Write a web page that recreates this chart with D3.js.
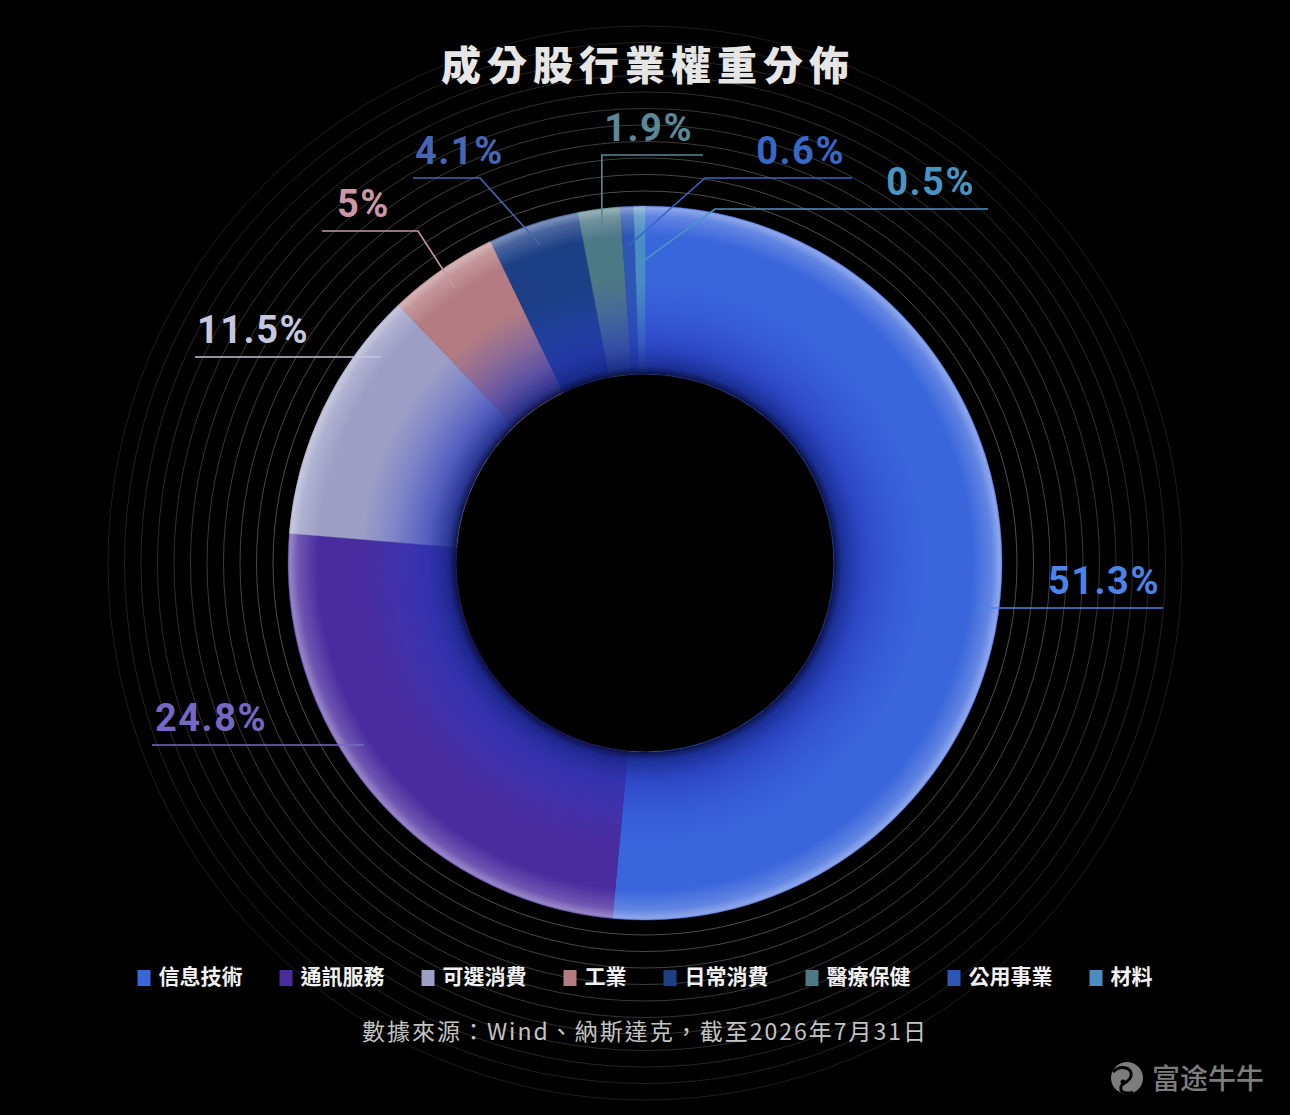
<!DOCTYPE html>
<html><head><meta charset="utf-8">
<script src="https://cdn.jsdelivr.net/npm/d3@7"></script>
<style>
html,body{margin:0;padding:0;background:#000;}
svg{display:block;}
</style></head>
<body>
<svg id="chart" width="1290" height="1115"></svg>
<script>
// ---- data ----
const categories = ['信息技術','通訊服務','可選消費','工業','日常消費','醫療保健','公用事業','材料'];
const values = [51.3, 24.8, 11.5, 5, 4.1, 1.9, 0.6, 0.5];
const valueLabels = ['51.3%','24.8%','11.5%','5%','4.1%','1.9%','0.6%','0.5%'];
const titleText = '成分股行業權重分佈';
const sourceText = '數據來源：Wind、納斯達克，截至2026年7月31日';
const brandText = '富途牛牛';

// ---- styles ----
const sliceColors = ['#3a66dc','#4a2c9e','#9c9ec6','#b47c82','#1c3f86','#4d7886','#2e56b4','#4a8ec4'];
const labelColors = ['#4a84ea','#7468c4','#c6c6de','#cc96a6','#4466b4','#5a8896','#3668c8','#4a94c4'];
// leader-line layout for annotations (label line height, outer end, optional elbow)
const leaderLayout = [
  {lineY:608, side: 1, endX:1163, mode:'h', textDx:-3},
  {lineY:745, side:-1, endX:152,  mode:'h', textDx:3},
  {lineY:357, side:-1, endX:195,  mode:'h', textDx:2},
  {lineY:231, side:-1, endX:322,  mode:'e', elbowX:418, r:335, textDx:15},
  {lineY:178, side:-1, endX:413,  mode:'e', elbowX:480, r:335, textDx:2},
  {lineY:155, side: 1, endX:703,  mode:'v', r:335, textDx:-10},
  {lineY:178, side: 1, endX:852,  mode:'e', elbowX:705, r:318, textDx:-7},
  {lineY:209, side: 1, endX:988,  mode:'e', elbowX:715, r:300, textDx:-13}
];

const W = 1290, H = 1115;
const cx = 645, cy = 563;
const outerR = 357, innerR = 189;
const svg = d3.select('#chart');
const defs = svg.append('defs');

svg.append('rect').attr('width', W).attr('height', H).attr('fill', '#000');

// background concentric rings
const ringRadii = d3.range(372, 548, 16.5);
const ringOpacity = d3.scaleLinear().domain([372, 548]).range([0.3, 0.1]);
svg.append('g').selectAll('circle').data(ringRadii).join('circle')
  .attr('cx', cx).attr('cy', cy).attr('r', d => d)
  .attr('fill', 'none').attr('stroke', '#ffffff')
  .attr('stroke-opacity', d => ringOpacity(d)).attr('stroke-width', 1);

// pie
const pie = d3.pie().sort(null).value(d => d);
const arcs = pie(values);
const arc = d3.arc().innerRadius(innerR).outerRadius(outerR);

const g = svg.append('g').attr('transform', `translate(${cx},${cy})`);
g.selectAll('path.slice').data(arcs).join('path')
  .attr('class', 'slice')
  .attr('d', arc)
  .attr('fill', (d, i) => sliceColors[i])
  .attr('stroke', (d, i) => sliceColors[i]).attr('stroke-width', 0.5);

// shading overlay
const grad = defs.append('radialGradient').attr('id', 'shade')
  .attr('gradientUnits', 'userSpaceOnUse').attr('cx', 0).attr('cy', 0).attr('r', outerR);
const stops = [
  [innerR/outerR, '#050a3c', 0.95],
  [(innerR+8)/outerR, '#142487', 0.85],
  [(innerR+30)/outerR, '#2634b8', 0.6],
  [(innerR+65)/outerR, '#2c40cc', 0.25],
  [(innerR+95)/outerR, '#2c40cc', 0.0],
  [(outerR-30)/outerR, '#ffffff', 0.0],
  [(outerR-10)/outerR, '#ffffff', 0.2],
  [(outerR-2)/outerR, '#ffffff', 0.42],
  [1, '#ffffff', 0.25]
];
grad.selectAll('stop').data(stops).join('stop')
  .attr('offset', d => d[0]).attr('stop-color', d => d[1]).attr('stop-opacity', d => d[2]);
g.append('path')
  .attr('d', d3.arc().innerRadius(innerR).outerRadius(outerR).startAngle(0).endAngle(2*Math.PI)())
  .attr('fill', 'url(#shade)');

// fine striations near inner edge
const striR = d3.range(innerR + 1, innerR + 45, 2.2);
g.append('g').selectAll('circle').data(striR).join('circle')
  .attr('r', d => d).attr('fill', 'none').attr('stroke', '#5a6ad8')
  .attr('stroke-opacity', d => 0.14 * (1 - (d - innerR) / 45)).attr('stroke-width', 0.8);

// leader lines + labels
const lbl = svg.append('g');
arcs.forEach((a, i) => {
  const L = leaderLayout[i];
  const mid = (a.startAngle + a.endAngle) / 2;
  let pts;
  if (L.mode === 'h') {
    const dy = L.lineY - cy;
    const dx = Math.sqrt(335*335 - dy*dy) * L.side;
    pts = [[cx + dx, L.lineY], [L.endX, L.lineY]];
  } else {
    const p0 = [cx + L.r * Math.sin(mid), cy - L.r * Math.cos(mid)];
    const ex = L.mode === 'v' ? p0[0] : L.elbowX;
    pts = [p0, [ex, L.lineY], [L.endX, L.lineY]];
  }
  lbl.append('path').attr('d', d3.line()(pts))
    .attr('fill', 'none').attr('stroke', labelColors[i]).attr('stroke-width', 1.6);
  lbl.append('text')
    .attr('x', L.endX + L.textDx).attr('y', L.lineY - 14)
    .attr('text-anchor', L.side > 0 ? 'end' : 'start')
    .attr('font-family', 'Roboto, "DejaVu Sans", sans-serif')
    .attr('font-weight', 700).attr('font-size', 38)
    .attr('letter-spacing', 1.5)
    .attr('fill', labelColors[i]).text(valueLabels[i]);
});

// title
svg.append('text').attr('x', cx + 3).attr('y', 80).attr('text-anchor', 'middle')
  .attr('font-family', '"Noto Sans CJK TC", "Noto Sans CJK SC", sans-serif')
  .attr('font-weight', 900).attr('font-size', 40).attr('letter-spacing', 6)
  .attr('fill', '#e6e6e6').text(titleText);

// legend
const leg = svg.append('g');
const items = leg.selectAll('g').data(categories).join('g');
items.append('rect').attr('width', 13).attr('height', 16).attr('y', -14)
  .attr('fill', (d, i) => sliceColors[i]);
items.append('text').attr('x', 21).attr('y', 0)
  .attr('font-family', '"Noto Sans CJK TC", sans-serif').attr('font-weight', 700)
  .attr('font-size', 21).attr('fill', '#f0f0f0').text(d => d);
let xpos = 0;
const offsets = [];
items.each(function(d, i) {
  const tw = this.querySelector('text').getComputedTextLength();
  offsets.push(xpos);
  xpos += 21 + tw + 37;
});
const legW = xpos - 37;
items.attr('transform', (d, i) => `translate(${cx - legW/2 + offsets[i]},${984})`);

// source
svg.append('text').attr('x', cx).attr('y', 1040).attr('text-anchor', 'middle')
  .attr('font-family', '"Noto Sans CJK TC", sans-serif').attr('font-weight', 400)
  .attr('font-size', 23).attr('letter-spacing', 2)
  .attr('fill', '#c4c4c4').text(sourceText);

// watermark
const wm = svg.append('g').attr('transform', 'translate(1127,1078)');
wm.append('circle').attr('r', 16).attr('fill', '#7c7c7c');
wm.append('path').attr('d', 'M-14,-6 C-6,-14 6,-10 4,-2 C2,6 -8,4 -6,12 C-5,15 2,16 6,14')
  .attr('fill', 'none').attr('stroke', '#000').attr('stroke-width', 3);
wm.append('circle').attr('cx', -4).attr('cy', 4).attr('r', 2.5).attr('fill', '#000');
svg.append('text').attr('x', 1152).attr('y', 1089)
  .attr('font-family', '"Noto Sans CJK SC", sans-serif').attr('font-weight', 500)
  .attr('font-size', 28).attr('fill', '#7c7c7c').text(brandText);
</script>
</body></html>
